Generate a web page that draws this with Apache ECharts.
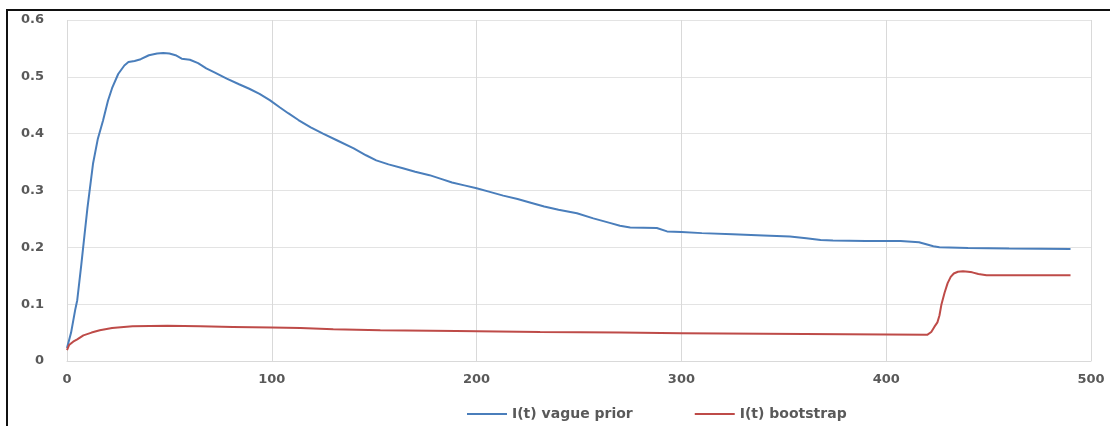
<!DOCTYPE html>
<html>
<head>
<meta charset="utf-8">
<style>
  html, body { margin: 0; padding: 0; background: #ffffff; }
  #chart { width: 1110px; height: 426px; }
</style>
<script src="https://cdn.jsdelivr.net/npm/echarts@6/dist/echarts.min.js"></script>
</head>
<body>
<div id="chart"></div>
<script>
// Time steps and values for the vague-prior curve
const vagueT = [0, 2, 4, 5, 7, 8.5, 10, 12.7, 15, 17.6, 20, 22, 25, 28, 30, 33, 36, 40, 44, 47, 50, 53, 56, 60, 64, 68, 72, 78, 84, 89, 94, 99, 104, 108, 113, 119, 125, 132, 140, 146, 151, 157, 164, 170, 177, 183, 188, 194, 200, 206, 213, 220, 226, 233, 240, 249, 257, 265, 270, 275, 288, 293, 300, 310, 325, 340, 353, 361, 368, 374, 390, 407, 416, 420, 423, 426, 440, 460, 490];
const vagueV = [0.023, 0.05, 0.09, 0.107, 0.17, 0.22, 0.27, 0.347, 0.39, 0.423, 0.458, 0.48, 0.505, 0.52, 0.526, 0.528, 0.531, 0.538, 0.541, 0.542, 0.541, 0.538, 0.532, 0.530, 0.524, 0.515, 0.508, 0.497, 0.487, 0.479, 0.47, 0.459, 0.446, 0.436, 0.424, 0.411, 0.40, 0.388, 0.374, 0.362, 0.353, 0.346, 0.339, 0.333, 0.327, 0.32, 0.314, 0.309, 0.304, 0.298, 0.291, 0.285, 0.279, 0.272, 0.266, 0.260, 0.251, 0.243, 0.238, 0.235, 0.234, 0.228, 0.227, 0.225, 0.223, 0.221, 0.219, 0.216, 0.213, 0.212, 0.211, 0.211, 0.209, 0.205, 0.202, 0.200, 0.199, 0.198, 0.197];

// Time steps and values for the bootstrap curve
const bootT = [0, 1, 3, 5, 8, 12, 16, 22, 32, 49, 65, 81, 100, 114, 130, 153, 190, 231, 270, 300, 340, 380, 420, 422, 423.5, 425, 426, 427, 428.5, 430, 431.5, 433, 435, 437.5, 440, 442, 445, 449, 470, 490];
const bootV = [0.019, 0.028, 0.034, 0.038, 0.045, 0.05, 0.054, 0.058, 0.061, 0.062, 0.061, 0.060, 0.059, 0.058, 0.056, 0.054, 0.053, 0.051, 0.050, 0.049, 0.048, 0.047, 0.046, 0.051, 0.06, 0.068, 0.08, 0.10, 0.12, 0.137, 0.148, 0.154, 0.157, 0.158, 0.157, 0.156, 0.153, 0.151, 0.151, 0.151];

const seriesNames = ['I(t) vague prior', 'I(t) bootstrap'];
const seriesColors = ['#4a7ebb', '#be4b48'];

const xTicks = { min: 0, max: 500, interval: 100 };
const yTicks = { min: 0, max: 0.6, interval: 0.1 };

const pairs = (ts, vs) => ts.map((t, i) => [t, vs[i]]);

const labelFont = {
  color: '#595959',
  fontFamily: 'DejaVu Sans',
  fontWeight: 'bold',
  fontSize: 13
};

const chart = echarts.init(document.getElementById('chart'), null, { renderer: 'canvas' });

chart.setOption({
  backgroundColor: '#ffffff',
  animation: false,
  grid: { left: 67, right: 19, top: 20, bottom: 65, containLabel: false },
  legend: {
    top: 402,
    left: 462,
    itemWidth: 40,
    itemHeight: 2,
    itemGap: 62,
    icon: 'rect',
    data: seriesNames,
    textStyle: Object.assign({}, labelFont, { fontSize: 14 })
  },
  xAxis: {
    type: 'value',
    min: xTicks.min,
    max: xTicks.max,
    interval: xTicks.interval,
    axisLine: { show: true, lineStyle: { color: '#d9d9d9', width: 1 } },
    axisTick: { show: false },
    splitLine: { show: true, lineStyle: { color: '#d9d9d9', width: 1 } },
    axisLabel: Object.assign({}, labelFont, { margin: 12 })
  },
  yAxis: {
    type: 'value',
    min: yTicks.min,
    max: yTicks.max,
    interval: yTicks.interval,
    axisLine: { show: false },
    axisTick: { show: false },
    splitLine: { show: true, lineStyle: { color: '#e3e3e3', width: 1 } },
    axisLabel: Object.assign({}, labelFont, { margin: 23 })
  },
  series: [
    {
      name: seriesNames[0],
      type: 'line',
      data: pairs(vagueT, vagueV),
      showSymbol: false,
      symbol: 'none',
      lineStyle: { color: seriesColors[0], width: 2 },
      itemStyle: { color: seriesColors[0] }
    },
    {
      name: seriesNames[1],
      type: 'line',
      data: pairs(bootT, bootV),
      showSymbol: false,
      symbol: 'none',
      lineStyle: { color: seriesColors[1], width: 2 },
      itemStyle: { color: seriesColors[1] }
    }
  ],
  graphic: [
    // frame edges along the top and left of the figure
    { type: 'line', shape: { x1: 6, y1: 10, x2: 1110, y2: 10 }, style: { stroke: '#111', lineWidth: 2 } },
    { type: 'line', shape: { x1: 7, y1: 9, x2: 7, y2: 426 }, style: { stroke: '#111', lineWidth: 2 } }
  ]
});
</script>
</body>
</html>
